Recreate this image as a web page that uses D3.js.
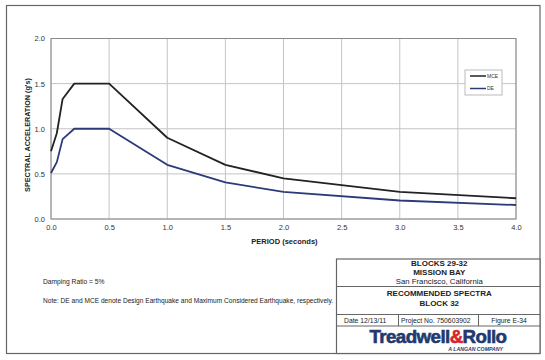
<!DOCTYPE html>
<html><head><meta charset="utf-8">
<script src="https://cdn.jsdelivr.net/npm/d3@7"></script>
<style>body{margin:0;background:#fff}svg{display:block;font-family:"Liberation Sans",Arial,sans-serif}</style>
</head><body>
<script>
const periods = [0, 0.05, 0.1, 0.2, 0.5, 1.0, 1.5, 2.0, 3.0, 4.0];
const mce = [0.75, 0.95, 1.33, 1.5, 1.5, 0.9, 0.6, 0.45, 0.3, 0.23];
const de  = [0.51, 0.63, 0.885, 1.0, 1.0, 0.6, 0.405, 0.30, 0.205, 0.155];
const seriesNames = ["MCE", "DE"];
const xTicks = [0, 0.5, 1.0, 1.5, 2.0, 2.5, 3.0, 3.5, 4.0];
const yTicks = [0, 0.5, 1.0, 1.5, 2.0];

const W = 545, H = 360;
const svg = d3.select("body").append("svg").attr("width", W).attr("height", H);

// outer border
svg.append("rect").attr("x", 6.5).attr("y", 5.5).attr("width", 533.5).attr("height", 348)
  .attr("fill", "#fff").attr("stroke", "#666").attr("stroke-width", 1.2);

const x = d3.scaleLinear().domain([0, 4]).range([51, 516]);
const y = d3.scaleLinear().domain([0, 2]).range([219, 38.5]);

// grid
const g = svg.append("g");
g.selectAll(".vg").data(xTicks).join("line")
  .attr("x1", d => x(d)).attr("x2", d => x(d)).attr("y1", y(0)).attr("y2", y(2))
  .attr("stroke", "#c4c4c4").attr("stroke-width", 1);
g.selectAll(".hg").data(yTicks).join("line")
  .attr("x1", x(0)).attr("x2", x(4)).attr("y1", d => y(d)).attr("y2", d => y(d))
  .attr("stroke", "#c4c4c4").attr("stroke-width", 1);
g.append("rect").attr("x", x(0)).attr("y", y(2)).attr("width", x(4) - x(0)).attr("height", y(0) - y(2))
  .attr("fill", "none").attr("stroke", "#8a8a8a").attr("stroke-width", 1);

// axes (labels only)
const xAxis = svg.append("g").attr("transform", `translate(0,${y(0)})`)
  .call(d3.axisBottom(x).tickValues(xTicks).tickFormat(d3.format(".1f")).tickSize(0).tickPadding(6));
const yAxis = svg.append("g").attr("transform", `translate(${x(0)},0)`)
  .call(d3.axisLeft(y).tickValues(yTicks).tickFormat(d3.format(".1f")).tickSize(0).tickPadding(6));
[xAxis, yAxis].forEach(a => {
  a.select(".domain").remove();
  a.selectAll("text").attr("font-size", 7.5).attr("fill", "#333").attr("font-family", "Liberation Sans, Arial, sans-serif");
});

// axis titles
svg.append("text").attr("x", 284.5).attr("y", 244).attr("text-anchor", "middle")
  .attr("font-size", 7.5).attr("font-weight", "bold").attr("fill", "#222").text("PERIOD (seconds)");
svg.append("text").attr("transform", "translate(29.5,135) rotate(-90)").attr("text-anchor", "middle")
  .attr("font-size", 7.2).attr("font-weight", "bold").attr("fill", "#222").text("SPECTRAL ACCELERATION (g's)");

// lines
const line = d3.line().x(d => x(d[0])).y(d => y(d[1]));
const colors = {MCE: "#222222", DE: "#2c3a78"};
const data = {MCE: periods.map((p, i) => [p, mce[i]]), DE: periods.map((p, i) => [p, de[i]])};
seriesNames.forEach(n => {
  svg.append("path").attr("d", line(data[n])).attr("fill", "none")
    .attr("stroke", colors[n]).attr("stroke-width", 1.8).attr("stroke-linejoin", "round");
});

// legend
svg.append("rect").attr("x", 465).attr("y", 70).attr("width", 37).attr("height", 25)
  .attr("fill", "#fff").attr("stroke", "#bbb").attr("stroke-width", 1);
seriesNames.forEach((n, i) => {
  const ly = 76 + i * 12.5;
  svg.append("line").attr("x1", 470).attr("x2", 486).attr("y1", ly).attr("y2", ly)
    .attr("stroke", colors[n]).attr("stroke-width", 1.5);
  svg.append("text").attr("x", 487).attr("y", ly + 1.8).attr("font-size", 5).attr("fill", "#333").text(n);
});

// notes
svg.append("text").attr("x", 43).attr("y", 284).attr("font-size", 6.7).attr("fill", "#222").text("Damping Ratio = 5%");
svg.append("text").attr("x", 43).attr("y", 303).attr("font-size", 6.6).attr("fill", "#222")
  .text("Note: DE and MCE denote Design Earthquake and Maximum Considered Earthquake, respectively.");

// title block
const tb = svg.append("g");
const L = 336.5, R = 540, T = 259, B = 353.5;
tb.append("rect").attr("x", L).attr("y", T).attr("width", R - L).attr("height", B - T)
  .attr("fill", "#fff").attr("stroke", "#666").attr("stroke-width", 1.2);
[286.5, 314.5, 326].forEach(yy => tb.append("line").attr("x1", L).attr("x2", R).attr("y1", yy).attr("y2", yy)
  .attr("stroke", "#666").attr("stroke-width", 1));
[398.5, 478.5].forEach(xx => tb.append("line").attr("x1", xx).attr("x2", xx).attr("y1", 314.5).attr("y2", 326)
  .attr("stroke", "#666").attr("stroke-width", 1));
const cx = (L + R) / 2 + 1;
const tt = (txt, yy, bold, xx = cx, anchor = "middle", fs = 8) => tb.append("text").attr("x", xx).attr("y", yy)
  .attr("text-anchor", anchor).attr("font-size", fs).attr("font-weight", bold ? "bold" : "normal").attr("fill", "#222").text(txt);
tt("BLOCKS 29-32", 265.5, true);
tt("MISSION BAY", 275, true);
tt("San Francisco, California", 284, false, cx, "middle", 7.8);
tt("RECOMMENDED SPECTRA", 296, true);
tt("BLOCK 32", 305.5, true);
tt("Date  12/13/11", 322.5, false, 344, "start", 6.8);
tt("Project No. 750603902", 322.5, false, 401, "start", 6.8);
tt("Figure E-34", 322.5, false, 509, "middle", 6.8);

// logo
const logo = tb.append("text").attr("x", 438).attr("y", 343).attr("text-anchor", "middle")
  .attr("font-size", 19).attr("font-weight", "bold").attr("fill", "#1f3a6e")
  .attr("stroke", "#1f3a6e").attr("stroke-width", 0.6)
  .attr("letter-spacing", -0.6).attr("textLength", 137).attr("lengthAdjust", "spacingAndGlyphs");
logo.append("tspan").text("Treadwell");
logo.append("tspan").attr("fill", "#d7262b").attr("stroke", "#d7262b").text("&");
logo.append("tspan").text("Rollo");
tb.append("text").attr("x", 503).attr("y", 350.5).attr("text-anchor", "end")
  .attr("font-size", 5.2).attr("font-weight", "bold").attr("font-style", "italic").attr("fill", "#1f3a6e")
  .text("A LANGAN COMPANY");
</script>
</body></html>
